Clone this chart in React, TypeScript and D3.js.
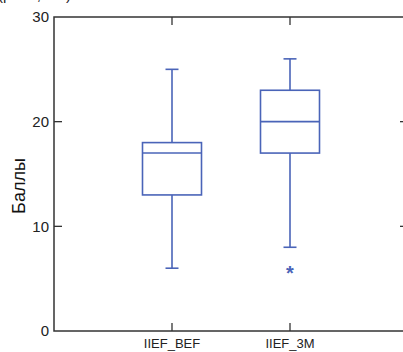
import { useEffect, useRef } from "react"
import * as d3 from "d3"

const categories = ["IIEF_BEF", "IIEF_3M"]
const whiskerLow = [6, 8]
const q1 = [13, 17]
const median = [17, 20]
const q3 = [18, 23]
const whiskerHigh = [25, 26]
const outliers = [{ cat: "IIEF_3M", value: 6 }]
const yTicks = [0, 10, 20, 30]

export default function App() {
  const svgRef = useRef<SVGSVGElement | null>(null)

  useEffect(() => {
    if (!svgRef.current) return
    const svg = d3.select(svgRef.current)
    svg.selectAll("*").remove()

    const left = 54
    const right = 408
    const top = 17
    const bottom = 331
    const blue = "#4a64b8"
    const axisColor = "#333"
    const font = "Arial, 'Liberation Sans', sans-serif"

    const x = d3.scalePoint().domain(categories).range([left, right]).padding(1)
    const y = d3.scaleLinear().domain([0, 30]).range([bottom, top])

    // caption cut off by the top edge, as in the source image
    svg
      .append("text")
      .attr("x", -2)
      .attr("y", 0)
      .attr("font-family", font)
      .attr("font-size", 15)
      .attr("fill", "#222")
      .text("(р = 0,001)")

    // frame
    svg
      .append("rect")
      .attr("x", left)
      .attr("y", top)
      .attr("width", right - left)
      .attr("height", bottom - top)
      .attr("fill", "none")
      .attr("stroke", axisColor)
      .attr("stroke-width", 1.5)

    // y ticks (inward on both sides) and labels
    const yAxis = svg.append("g")
    yTicks.forEach((t) => {
      if (t !== 0 && t !== 30) {
        yAxis
          .append("line")
          .attr("x1", left)
          .attr("x2", left + 8)
          .attr("y1", y(t))
          .attr("y2", y(t))
          .attr("stroke", axisColor)
          .attr("stroke-width", 1.3)
        yAxis
          .append("line")
          .attr("x1", right)
          .attr("x2", right - 8)
          .attr("y1", y(t))
          .attr("y2", y(t))
          .attr("stroke", axisColor)
          .attr("stroke-width", 1.3)
      }
      yAxis
        .append("text")
        .attr("x", left - 5)
        .attr("y", y(t))
        .attr("dy", "0.35em")
        .attr("text-anchor", "end")
        .attr("font-family", font)
        .attr("font-size", 15)
        .attr("fill", "#222")
        .text(t)
    })

    // category ticks and labels
    categories.forEach((c) => {
      const cx = x(c) as number
      svg
        .append("line")
        .attr("x1", cx)
        .attr("x2", cx)
        .attr("y1", bottom)
        .attr("y2", bottom - 8)
        .attr("stroke", axisColor)
        .attr("stroke-width", 1.3)
      svg
        .append("line")
        .attr("x1", cx)
        .attr("x2", cx)
        .attr("y1", top)
        .attr("y2", top + 8)
        .attr("stroke", axisColor)
        .attr("stroke-width", 1.3)
      svg
        .append("text")
        .attr("x", cx)
        .attr("y", 348)
        .attr("text-anchor", "middle")
        .attr("font-family", font)
        .attr("font-size", 13)
        .attr("fill", "#222")
        .text(c)
    })

    // y label
    svg
      .append("text")
      .attr("transform", `translate(25,${(top + bottom) / 2 + 12}) rotate(-90)`)
      .attr("text-anchor", "middle")
      .attr("font-family", font)
      .attr("font-size", 18)
      .attr("fill", "#111")
      .text("Баллы")

    // boxes
    const boxW = 59
    const capW = 13
    const g = svg.append("g").attr("stroke", blue).attr("stroke-width", 1.6).attr("fill", "none")
    categories.forEach((c, i) => {
      const cx = x(c) as number
      g.append("line").attr("x1", cx).attr("x2", cx).attr("y1", y(whiskerHigh[i])).attr("y2", y(q3[i]))
      g.append("line").attr("x1", cx).attr("x2", cx).attr("y1", y(q1[i])).attr("y2", y(whiskerLow[i]))
      g.append("line")
        .attr("x1", cx - capW / 2)
        .attr("x2", cx + capW / 2)
        .attr("y1", y(whiskerHigh[i]))
        .attr("y2", y(whiskerHigh[i]))
      g.append("line")
        .attr("x1", cx - capW / 2)
        .attr("x2", cx + capW / 2)
        .attr("y1", y(whiskerLow[i]))
        .attr("y2", y(whiskerLow[i]))
      g.append("rect")
        .attr("x", cx - boxW / 2)
        .attr("y", y(q3[i]))
        .attr("width", boxW)
        .attr("height", y(q1[i]) - y(q3[i]))
      g.append("line")
        .attr("x1", cx - boxW / 2)
        .attr("x2", cx + boxW / 2)
        .attr("y1", y(median[i]))
        .attr("y2", y(median[i]))
    })

    // outliers
    outliers.forEach((o) => {
      svg
        .append("text")
        .attr("x", x(o.cat) as number)
        .attr("y", y(o.value))
        .attr("dy", "0.6em")
        .attr("text-anchor", "middle")
        .attr("font-family", font)
        .attr("font-size", 20)
        .attr("font-weight", "bold")
        .attr("fill", blue)
        .text("*")
    })
  }, [])

  return (
    <svg
      ref={svgRef}
      width={403}
      height={352}
      style={{ position: "fixed", left: 0, top: 0, background: "#fff" }}
    ></svg>
  )
}
